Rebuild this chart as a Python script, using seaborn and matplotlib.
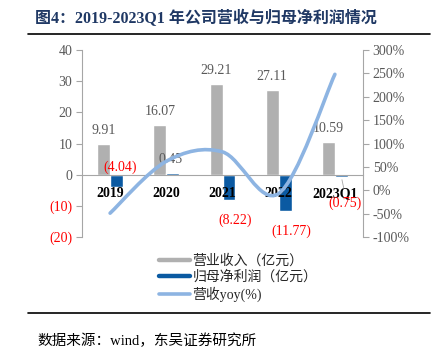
import numpy as np
import pandas as pd
import seaborn as sns
import matplotlib.pyplot as plt
from matplotlib.path import Path
from matplotlib.patches import PathPatch
from matplotlib.lines import Line2D
from matplotlib.ticker import FuncFormatter

# data
years = ['2019', '2020', '2021', '2022', '2023Q1']
revenue = [9.91, 16.07, 29.21, 27.11, 10.59]          # 营业收入（亿元）
net_profit = [-4.04, 0.45, -8.22, -11.77, -0.75]      # 归母净利润（亿元）
revenue_yoy = [-0.49, 0.62, 0.82, -0.07, 2.48]        # 营收yoy

rev_name = '营业收入（亿元）'
np_name = '归母净利润（亿元）'
yoy_name = '营收yoy(%)'

df = pd.DataFrame({
    'year': years * 2,
    'value': revenue + net_profit,
    'series': [rev_name] * len(years) + [np_name] * len(years),
})

sns.set_style('white')
serif = ['Liberation Serif', 'Noto Sans CJK SC']
plt.rcParams['font.family'] = serif
plt.rcParams['font.size'] = 10

gray = '#B0B0B0'
blue = '#0B5AA2'
light = '#8DB4E2'
txt = '#595959'

fig = plt.figure(figsize=(4.43, 3.51), dpi=100)
ax = fig.add_axes([82 / 443, 1 - 237 / 351, 281 / 443, 187 / 351])

sns.barplot(data=df, x='year', y='value', hue='series', hue_order=[rev_name, np_name],
            palette=[gray, blue], width=0.46, saturation=1, legend=False, ax=ax)
ax.set_xlim(-0.5, 4.5)
ax.set_ylim(-20, 40)
ax.set_xlabel('')
ax.set_ylabel('')
ax.set_axisbelow(False)  # category labels sit on top of the bars

# zero line acts as category axis
ax.spines['bottom'].set_position(('data', 0))
ax.spines['bottom'].set_color('#A6A6A6')
ax.spines['left'].set_color('#A6A6A6')
ax.spines['top'].set_visible(False)
ax.spines['right'].set_visible(False)
ax.tick_params(axis='x', length=0, pad=9)
for lab in ax.get_xticklabels():
    lab.set_fontweight('bold')
    lab.set_color('black')

ax.set_yticks([-20, -10, 0, 10, 20, 30, 40])
ax.yaxis.set_major_formatter(FuncFormatter(lambda v, p: f'({abs(v):.0f})' if v < 0 else f'{v:.0f}'))
ax.tick_params(axis='y', direction='out', length=4, color='#A6A6A6', left=True, pad=3)
for lab, v in zip(ax.get_yticklabels(), ax.get_yticks()):
    lab.set_color('red' if v < 0 else txt)

# bar value labels
for i, v in enumerate(revenue):
    ax.annotate(f'{v:.2f}', (i - 0.115, v), xytext=(0, 7), textcoords='offset pixels',
                ha='center', va='bottom', color=txt)

np_offsets = [(4, 13), (-2, 7), (6, -13), (6, -13), (4, -20)]
for i, (v, off) in enumerate(zip(net_profit, np_offsets)):
    label = f'({abs(v):.2f})' if v < 0 else f'{v:.2f}'
    ax.annotate(label, (i + 0.115, v), xytext=off, textcoords='offset pixels',
                ha='center', va='bottom' if off[1] > 0 else 'top',
                color='red' if v < 0 else txt)
# leader line for the small 2023Q1 value
ax.annotate('', (4 + 0.115, net_profit[4]), xytext=(3, -14), textcoords='offset pixels',
            arrowprops=dict(arrowstyle='-', color='#A6A6A6', lw=0.6))

# yoy line on the secondary axis, smoothed like the original
ax2 = ax.twinx()
ax2.set_ylim(-1, 3)
pts = np.column_stack([np.arange(len(years)), revenue_yoy])
verts = [pts[0]]
codes = [Path.MOVETO]
for i in range(len(pts) - 1):
    p0 = pts[max(i - 1, 0)]
    p1 = pts[i]
    p2 = pts[i + 1]
    p3 = pts[min(i + 2, len(pts) - 1)]
    verts += [p1 + (p2 - p0) / 6, p2 - (p3 - p1) / 6, p2]
    codes += [Path.CURVE4] * 3
ax2.add_patch(PathPatch(Path(verts, codes), facecolor='none', edgecolor=light,
                        lw=2.6, capstyle='round'))

ax2.set_yticks(np.arange(-1, 3.01, 0.5))
ax2.yaxis.set_major_formatter(FuncFormatter(lambda v, p: f'{v * 100:.0f}%'))
ax2.tick_params(axis='y', direction='out', length=4, color='#A6A6A6', right=True,
                labelcolor=txt, pad=3)
for s in ['top', 'left', 'bottom']:
    ax2.spines[s].set_visible(False)
ax2.spines['right'].set_color('#A6A6A6')

# legend
handles = [Line2D([], [], color=gray, lw=3.2),
           Line2D([], [], color=blue, lw=3.2),
           Line2D([], [], color=light, lw=2.6)]
fig.legend(handles, [rev_name, np_name, yoy_name], loc='upper left',
           bbox_to_anchor=(152 / 443, 1 - 247 / 351), frameon=False, fontsize=10,
           handlelength=2.2, handletextpad=0.2, labelspacing=0.2, borderpad=0)

# title, rules and source
fig.text(35 / 443, 1 - 19 / 351, '图4：2019-2023Q1 年公司营收与归母净利润情况',
         fontsize=11.5, fontweight='bold', color='#1F3864', va='center')
fig.add_artist(Line2D([28 / 443, 430 / 443], [1 - 34 / 351] * 2, color='black', lw=1.2))
fig.add_artist(Line2D([28 / 443, 430 / 443], [1 - 313 / 351] * 2, color='black', lw=1.2))
fig.text(37 / 443, 1 - 341 / 351, '数据来源：wind，东吴证券研究所', fontsize=10.5,
         color='black', va='center')

fig.savefig('out.png', dpi=100)
